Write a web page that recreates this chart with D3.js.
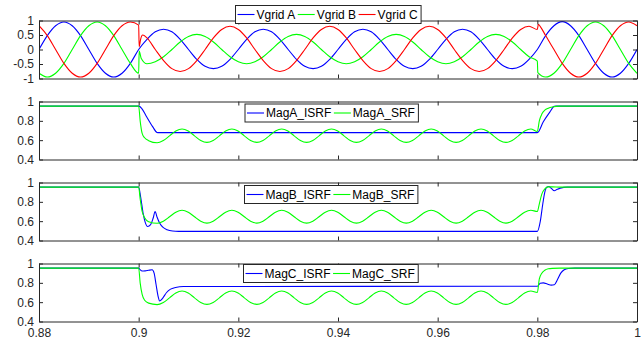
<!DOCTYPE html>
<html lang="en">
<head>
    <meta charset="utf-8">
    <title>Grid voltage and magnitude estimates</title>
    <script src="https://d3js.org/d3.v7.min.js"></script>
    <style type="text/css">
        body
        {
            margin: 0;
            background-color: white;
        }
        svg
        {
            font-family: "Liberation Sans", Arial, sans-serif;
        }
        .axis text
        {
            font-size: 12px;
            fill: #262626;
        }
        .axis path, .axis line
        {
            stroke: #262626;
            stroke-width: 1;
        }
        .legend text
        {
            font-size: 12px;
            fill: #000;
        }
    </style>
</head>
<body>
<div id="chart_div"></div>
<script>
"use strict";

// tick labels
var xTicks = [0.88, 0.9, 0.92, 0.94, 0.96, 0.98, 1];
var yTicksV = [-1, -0.5, 0, 0.5, 1];
var yTicksMag = [0.4, 0.6, 0.8, 1];

// voltage traces, one sample every 1/600 s from 0.88 s
var tGrid = d3.range(73).map(function (k) { return 0.88 + k / 600; });

var vgridA = [0, 0.48, 0.82, 0.95, 0.82, 0.48, 0, -0.48, -0.82, -0.95, -0.82, -0.48,
    0, 0.35, 0.61, 0.70, 0.61, 0.35, 0, -0.34, -0.58, -0.66, -0.58, -0.34,
    0, 0.35, 0.61, 0.70, 0.61, 0.35, 0, -0.34, -0.58, -0.66, -0.58, -0.34,
    0, 0.35, 0.61, 0.70, 0.61, 0.35, 0, -0.34, -0.58, -0.66, -0.58, -0.34,
    0, 0.35, 0.61, 0.70, 0.61, 0.35, 0, -0.34, -0.58, -0.66, -0.58, -0.34,
    0, 0.48, 0.82, 0.96, 0.82, 0.48, 0, -0.48, -0.82, -0.95, -0.82, -0.48, 0];
var vgridB = [-0.82, -0.95, -0.82, -0.48, 0, 0.48, 0.82, 0.95, 0.82, 0.48, 0, -0.48,
    -0.82, -0.49, -0.42, -0.25, 0, 0.26, 0.45, 0.52, 0.45, 0.26, 0, -0.25,
    -0.42, -0.49, -0.42, -0.25, 0, 0.26, 0.45, 0.52, 0.45, 0.26, 0, -0.25,
    -0.42, -0.49, -0.42, -0.25, 0, 0.26, 0.45, 0.52, 0.45, 0.26, 0, -0.25,
    -0.42, -0.49, -0.42, -0.25, 0, 0.26, 0.45, 0.52, 0.45, 0.26, 0, -0.25,
    -0.40, -0.95, -0.82, -0.48, 0, 0.48, 0.82, 0.95, 0.82, 0.48, 0, -0.48, -0.82];
var vgridC = [0.82, 0.48, 0, -0.48, -0.82, -0.95, -0.82, -0.48, 0, 0.48, 0.82, 0.95,
    0.84, 0.40, 0, -0.38, -0.66, -0.76, -0.66, -0.38, 0, 0.40, 0.69, 0.80,
    0.69, 0.40, 0, -0.38, -0.66, -0.76, -0.66, -0.38, 0, 0.40, 0.69, 0.80,
    0.69, 0.40, 0, -0.38, -0.66, -0.76, -0.66, -0.38, 0, 0.40, 0.69, 0.80,
    0.69, 0.40, 0, -0.38, -0.66, -0.76, -0.66, -0.38, 0, 0.40, 0.69, 0.80,
    0.69, 0.48, 0, -0.48, -0.82, -0.95, -0.82, -0.48, 0, 0.48, 0.82, 0.95, 0.82];
// extra points on the sag and recovery edges
var jumpB = [[0.9001, -0.05], [0.9005, -0.30], [0.9801, -0.80]];
var jumpC = [[0.9001, 0.10], [0.9004, 0.36], [0.9008, 0.50], [0.9802, 0.87], [0.9806, 0.79]];

// SRF magnitude estimates share one time base:
// sag edge, ripple sampled every 1.25 ms, recovery edge
var tSrfSag = [0.88, 0.9, 0.9003, 0.9007, 0.9012, 0.902];
var tSrfRipple = d3.range(61).map(function (n) { return 0.9037 + n * 0.00125; });
var tSrfRec = [0.98, 0.9804, 0.9809, 0.9815, 0.9822, 0.983, 0.9845, 1.0];
var tSrf = tSrfSag.concat(tSrfRipple, tSrfRec);

var magA_SRF = [0.952, 0.952, 0.80, 0.67, 0.625, 0.595,
    0.573, 0.597, 0.645, 0.695, 0.716, 0.695, 0.645, 0.597,
    0.577, 0.597, 0.645, 0.695, 0.716, 0.695, 0.645, 0.597,
    0.577, 0.597, 0.645, 0.695, 0.716, 0.695, 0.645, 0.597,
    0.577, 0.597, 0.645, 0.695, 0.716, 0.695, 0.645, 0.597,
    0.577, 0.597, 0.645, 0.695, 0.716, 0.695, 0.645, 0.597,
    0.577, 0.597, 0.645, 0.695, 0.716, 0.695, 0.645, 0.597,
    0.577, 0.597, 0.645, 0.695, 0.716, 0.695, 0.645, 0.597,
    0.577, 0.597, 0.645, 0.695, 0.716,
    0.69, 0.80, 0.87, 0.91, 0.93, 0.943, 0.952, 0.952];
var magB_SRF = [0.952, 0.952, 0.83, 0.70, 0.635, 0.595,
    0.578, 0.60, 0.645, 0.693, 0.713, 0.693, 0.645, 0.60,
    0.58, 0.60, 0.645, 0.693, 0.713, 0.693, 0.645, 0.60,
    0.58, 0.60, 0.645, 0.693, 0.713, 0.693, 0.645, 0.60,
    0.58, 0.60, 0.645, 0.693, 0.713, 0.693, 0.645, 0.60,
    0.58, 0.60, 0.645, 0.693, 0.713, 0.693, 0.645, 0.60,
    0.58, 0.60, 0.645, 0.693, 0.713, 0.693, 0.645, 0.60,
    0.58, 0.60, 0.645, 0.693, 0.713, 0.693, 0.645, 0.60,
    0.58, 0.60, 0.645, 0.693, 0.713,
    0.70, 0.78, 0.88, 0.935, 0.955, 0.955, 0.952, 0.952];
var magC_SRF = [0.952, 0.952, 0.80, 0.68, 0.62, 0.59,
    0.575, 0.597, 0.645, 0.695, 0.715, 0.695, 0.645, 0.597,
    0.577, 0.597, 0.645, 0.695, 0.715, 0.695, 0.645, 0.597,
    0.577, 0.597, 0.645, 0.695, 0.715, 0.695, 0.645, 0.597,
    0.577, 0.597, 0.645, 0.695, 0.715, 0.695, 0.645, 0.597,
    0.577, 0.597, 0.645, 0.695, 0.715, 0.695, 0.645, 0.597,
    0.577, 0.597, 0.645, 0.695, 0.715, 0.695, 0.645, 0.597,
    0.577, 0.597, 0.645, 0.695, 0.715, 0.695, 0.645, 0.597,
    0.577, 0.597, 0.645, 0.695, 0.715,
    0.70, 0.84, 0.90, 0.93, 0.945, 0.95, 0.952, 0.952];

// ISRF magnitude estimates, [time, value]
var magA_ISRF = [[0.88, 0.952], [0.9, 0.952], [0.9006, 0.93], [0.9015, 0.85], [0.9028, 0.74],
    [0.9037, 0.68], [0.904, 0.678], [0.98, 0.678], [0.9812, 0.79], [0.9825, 0.89],
    [0.9834, 0.95], [0.9838, 0.952], [1.0, 0.952]];
var magB_ISRF = [[0.88, 0.952], [0.9, 0.952], [0.9004, 0.85], [0.9009, 0.68], [0.9013, 0.59],
    [0.9018, 0.545], [0.9024, 0.565], [0.9029, 0.63], [0.9033, 0.70], [0.9037, 0.64],
    [0.9042, 0.58], [0.9049, 0.535], [0.9057, 0.512], [0.9068, 0.498], [0.908, 0.494],
    [0.98, 0.494], [0.9806, 0.60], [0.9811, 0.78], [0.9815, 0.90], [0.9819, 0.952],
    [0.9823, 0.958], [0.9828, 0.94], [0.9834, 0.915], [0.984, 0.93], [0.9846, 0.942],
    [0.986, 0.952], [1.0, 0.952]];
var magC_ISRF = [[0.88, 0.952], [0.9, 0.952], [0.9003, 0.935], [0.9007, 0.922], [0.9013, 0.924],
    [0.902, 0.93], [0.9027, 0.935], [0.9031, 0.90], [0.9035, 0.78], [0.9039, 0.66],
    [0.9042, 0.612], [0.9048, 0.64], [0.9056, 0.70], [0.9064, 0.735], [0.9074, 0.752],
    [0.909, 0.762], [0.98, 0.765], [0.9806, 0.795], [0.9812, 0.80], [0.982, 0.787],
    [0.9828, 0.776], [0.9834, 0.78], [0.984, 0.83], [0.9847, 0.90], [0.9854, 0.935],
    [0.9862, 0.948], [0.9875, 0.952], [1.0, 0.952]];

var svg_width = 644;
var svg_height = 340;
var left = 39;
var right = 637;
var panel_top = [20.5, 101.5, 182.5, 263.5];
var panel_height = 58;

function onGrid(values, extra)
{
    var pts = values.map(function (v, k) { return [tGrid[k], v]; });
    return pts.concat(extra || []).sort(function (a, b) { return a[0] - b[0]; });
}

function onTimes(times, values)
{
    return values.map(function (v, k) { return [times[k], v]; });
}

function fmt(d)
{
    return String(+d.toFixed(2));
}

var xscale = d3.scaleLinear().domain([0.88, 1]).range([left, right]);

var svg = d3.select("#chart_div")
    .append("svg")
    .attr("width", svg_width)
    .attr("height", svg_height);

function drawPanel(i, ydomain, yticks, series, legend)
{
    var top = panel_top[i];
    var bottom = top + panel_height;
    var yscale = d3.scaleLinear().domain(ydomain).range([bottom, top]);

    svg.append("clipPath")
        .attr("id", "clip" + i)
        .append("rect")
        .attr("x", left).attr("y", top)
        .attr("width", right - left).attr("height", panel_height);

    var line = d3.line()
        .x(function (d) { return xscale(d[0]); })
        .y(function (d) { return yscale(d[1]); })
        .curve(d3.curveMonotoneX);

    var g = svg.append("g").attr("clip-path", "url(#clip" + i + ")");
    series.forEach(function (s)
    {
        g.append("path")
            .datum(s.data)
            .attr("d", line)
            .attr("fill", "none")
            .attr("stroke", s.color)
            .attr("stroke-width", 1.1);
    });

    var none = function () { return ""; };
    svg.append("g").attr("class", "axis")
        .attr("transform", "translate(0," + bottom + ")")
        .call(d3.axisBottom(xscale).tickValues(xTicks).tickSize(-4).tickSizeOuter(0)
            .tickPadding(7).tickFormat(i === 3 ? fmt : none));
    svg.append("g").attr("class", "axis")
        .attr("transform", "translate(0," + top + ")")
        .call(d3.axisTop(xscale).tickValues(xTicks).tickSize(-4).tickSizeOuter(0).tickFormat(none));
    svg.append("g").attr("class", "axis")
        .attr("transform", "translate(" + left + ",0)")
        .call(d3.axisLeft(yscale).tickValues(yticks).tickSize(-4).tickSizeOuter(0)
            .tickPadding(5).tickFormat(fmt));
    svg.append("g").attr("class", "axis")
        .attr("transform", "translate(" + right + ",0)")
        .call(d3.axisRight(yscale).tickValues(yticks).tickSize(-4).tickSizeOuter(0).tickFormat(none));
    svg.selectAll(".axis .domain").attr("stroke", "#262626");

    // horizontal legend box
    var lg = svg.append("g").attr("class", "legend");
    var box = lg.append("rect")
        .attr("x", legend.x).attr("y", legend.y)
        .attr("height", 18)
        .attr("fill", "white")
        .attr("stroke", "#262626")
        .attr("stroke-width", 1);
    var cx = legend.x + 2;
    series.forEach(function (s)
    {
        lg.append("line")
            .attr("x1", cx).attr("x2", cx + 17)
            .attr("y1", legend.y + 9).attr("y2", legend.y + 9)
            .attr("stroke", s.color)
            .attr("stroke-width", 1.1);
        var txt = lg.append("text")
            .attr("x", cx + 19)
            .attr("y", legend.y + 13.2)
            .text(s.name);
        cx += 19 + txt.node().getComputedTextLength() + 2.5;
    });
    box.attr("width", cx - legend.x + 1);
}

drawPanel(0, [-1, 1], yTicksV, [
    {name: "Vgrid A", color: "#0000ff", data: onGrid(vgridA)},
    {name: "Vgrid B", color: "#00ff00", data: onGrid(vgridB, jumpB)},
    {name: "Vgrid C", color: "#ff0000", data: onGrid(vgridC, jumpC)}
], {x: 235.5, y: 5.5});

drawPanel(1, [0.4, 1], yTicksMag, [
    {name: "MagA_ISRF", color: "#0000ff", data: magA_ISRF},
    {name: "MagA_SRF", color: "#00ff00", data: onTimes(tSrf, magA_SRF)}
], {x: 245, y: 104});

drawPanel(2, [0.4, 1], yTicksMag, [
    {name: "MagB_ISRF", color: "#0000ff", data: magB_ISRF},
    {name: "MagB_SRF", color: "#00ff00", data: onTimes(tSrf, magB_SRF)}
], {x: 244.5, y: 185.5});

drawPanel(3, [0.4, 1], yTicksMag, [
    {name: "MagC_ISRF", color: "#0000ff", data: magC_ISRF},
    {name: "MagC_SRF", color: "#00ff00", data: onTimes(tSrf, magC_SRF)}
], {x: 243.5, y: 264.5});
</script>
</body>
</html>
